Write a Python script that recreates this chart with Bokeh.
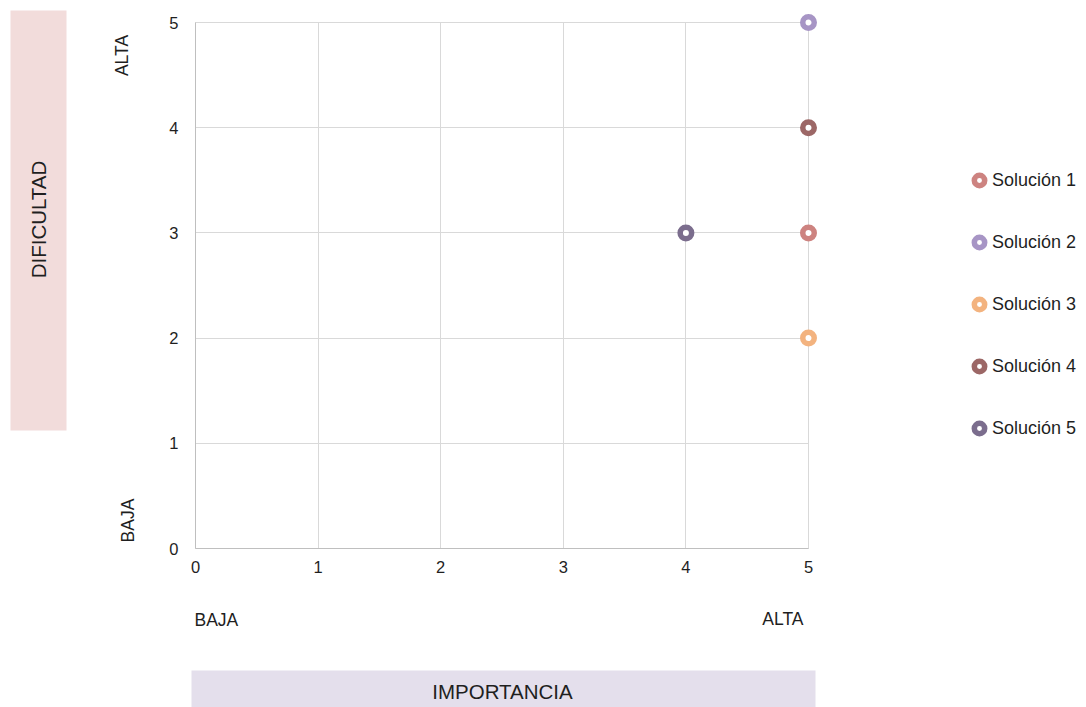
import math

from bokeh.embed import file_html
from bokeh.models import BoxAnnotation, FixedTicker, Label, Legend, LegendItem, Range1d
from bokeh.plotting import figure
from bokeh.resources import INLINE

# Data: importance (x) and difficulty (y) per solution
solutions = ["Solución 1", "Solución 2", "Solución 3", "Solución 4", "Solución 5"]
importancia = [5, 5, 5, 5, 4]
dificultad = [3, 5, 2, 4, 3]
colors = ["#CD8380", "#A795C5", "#F3B37F", "#9C6766", "#7B6D8D"]
tick_values = [0, 1, 2, 3, 4, 5]

FONT = "Liberation Sans"
TEXT = "#1f1f1f"

W, H = 1086, 707
# Pixel position of the 0..5 data square inside the canvas
X0_PX, X5_PX = 195, 808
Y0_PX, Y5_PX = 548, 22
sx = (X5_PX - X0_PX) / 5.0
sy = (Y0_PX - Y5_PX) / 5.0

p = figure(
    width=W, height=H,
    x_range=Range1d(-X0_PX / sx, (W - X0_PX) / sx),
    y_range=Range1d(-(H - Y0_PX) / sy, Y0_PX / sy),
    output_backend="svg", toolbar_location=None,
    min_border=0,
)
p.outline_line_color = None
p.background_fill_color = "white"
p.border_fill_color = "white"

for ax in (p.xaxis[0], p.yaxis[0]):
    ax.fixed_location = 0
    ax.ticker = FixedTicker(ticks=tick_values)
    ax.bounds = (0, 5)
    ax.major_tick_in = 0
    ax.major_tick_out = 0
    ax.minor_tick_in = 0
    ax.minor_tick_out = 0
    ax.axis_line_color = "#BFBFBF"
    ax.axis_line_width = 1
    ax.major_label_text_font = FONT
    ax.major_label_text_font_size = "16.5px"
    ax.major_label_text_color = TEXT
p.yaxis.major_label_standoff = 17
p.xaxis.major_label_standoff = 12

for g in p.grid:
    g.bounds = (0, 5)
    g.cross_bounds = (0, 5)
    g.grid_line_color = "#D9D9D9"
    g.grid_line_width = 1

# Shaded title boxes (screen units, origin bottom-left)
p.add_layout(BoxAnnotation(left=10, right=66, top=H - 10, bottom=H - 430,
                           left_units="screen", right_units="screen",
                           top_units="screen", bottom_units="screen",
                           fill_color="#F2DCDB", fill_alpha=1, line_color=None,
                           level="underlay"))
p.add_layout(BoxAnnotation(left=191, right=815, top=H - 670, bottom=0,
                           left_units="screen", right_units="screen",
                           top_units="screen", bottom_units="screen",
                           fill_color="#E4DFEC", fill_alpha=1, line_color=None,
                           level="underlay"))

def add_label(text, x, y, size, align="center", angle=0.0):
    p.add_layout(Label(text=text, x=x, y=H - y, x_units="screen", y_units="screen",
                       angle=angle, text_align=align, text_baseline="middle",
                       text_font=FONT, text_font_size=size, text_color=TEXT))

add_label("DIFICULTAD", 38, 219, "20.5px", angle=math.pi / 2)
add_label("IMPORTANCIA", 502, 691, "20.5px")
add_label("ALTA", 121, 55, "17.5px", angle=math.pi / 2)
add_label("BAJA", 127, 520, "17.5px", angle=math.pi / 2)
add_label("BAJA", 194, 619, "17.5px", align="left")
add_label("ALTA", 803, 618, "17.5px", align="right")

items = []
for name, x, y, c in zip(solutions, importancia, dificultad, colors):
    r = p.scatter(x=[x], y=[y], marker="circle", size=11.5,
                  fill_color="white", line_color=c, line_width=5.5)
    items.append(LegendItem(label=name, renderers=[r]))

legend = Legend(items=items, location=(966, H - 441), orientation="vertical",
                glyph_width=26, glyph_height=26, label_standoff=0, spacing=36,
                padding=0, margin=0, border_line_color=None,
                background_fill_alpha=0,
                label_text_font=FONT, label_text_font_size="18px",
                label_text_color=TEXT, label_height=26)
p.add_layout(legend)

open("out.html", "w").write(file_html(p, INLINE))
